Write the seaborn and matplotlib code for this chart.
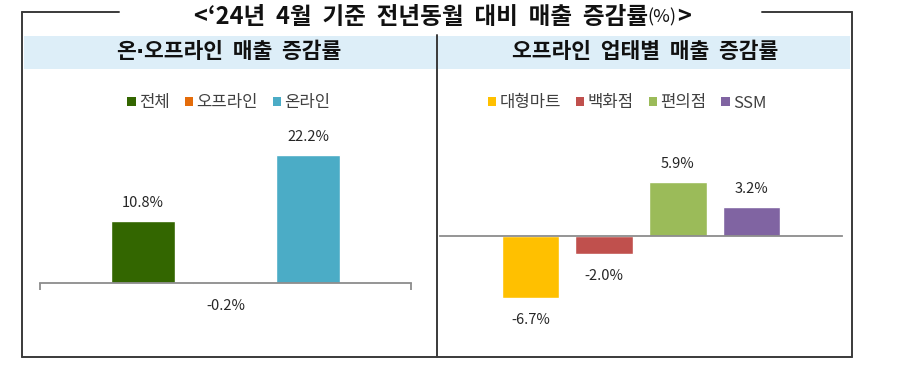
import matplotlib
matplotlib.use("Agg")
import matplotlib.pyplot as plt
from matplotlib.patches import Patch, Rectangle
from matplotlib.lines import Line2D
import seaborn as sns

# data
left_cats = ["전체", "오프라인", "온라인"]
left_vals = [10.8, -0.2, 22.2]
left_colors = ["#336600", "#E46C0A", "#4BACC6"]

right_cats = ["대형마트", "백화점", "편의점", "SSM"]
right_vals = [-6.7, -2.0, 5.9, 3.2]
right_colors = ["#FFC000", "#C0504D", "#9BBB59", "#8064A2"]

title_main = "<\u201824년  4월  기준  전년동월  대비  매출  증감률"
left_title = ["온", "·", "오프라인  매출  증감률"]
right_title = "오프라인  업태별  매출  증감률"

sns.set_theme(style="white")
plt.rcParams['font.family'] = ['Noto Sans CJK KR', 'DejaVu Sans']

W, H = 898, 369
fig = plt.figure(figsize=(W / 100, H / 100), dpi=100)
r = fig.canvas.get_renderer()


def fx(x):
	return x / W


def fy(y):
	return 1 - y / H


def px_axes(x0, y0, x1, y1):
	return fig.add_axes([fx(x0), fy(y1), fx(x1) - fx(x0), fy(y0) - fy(y1)])


def text_runs(xc, y, runs):
	# place several text pieces side by side, centred on xc (pixels)
	arts = [fig.text(0, fy(y), s, va="center", ha="left", **kw) for s, kw in runs]
	widths = [a.get_window_extent(r).width for a in arts]
	x = xc - sum(widths) / 2
	for a, w in zip(arts, widths):
		a.set_x(fx(x))
		x += w


# frame and header band
frame_c = "#3a3a3a"
for xs, ys in [((22, 119), (12, 12)), ((762, 852), (12, 12)),
			   ((22, 22), (12, 357)), ((852, 852), (12, 357)),
			   ((22, 852), (357, 357))]:
	fig.add_artist(Line2D([fx(x) for x in xs], [fy(y) for y in ys],
						  color=frame_c, lw=1.4))
fig.add_artist(Rectangle((fx(24), fy(69)), fx(850) - fx(24), fy(36) - fy(69),
						 facecolor="#DDEEF8", edgecolor="none", zorder=0))
fig.add_artist(Line2D([fx(437), fx(437)], [fy(35), fy(357)], color=frame_c, lw=1.4))

hdr = dict(fontsize=15.5, fontweight="bold", color="#111111")
text_runs(229, 52, [(left_title[0], hdr),
					(left_title[1], dict(hdr, family="DejaVu Sans")),
					(left_title[2], hdr)])
text_runs(645, 52, [(right_title, hdr)])

ttl = dict(fontsize=17, fontweight="bold", color="#111111")
text_runs(442, 17, [(title_main, ttl),
					("(%)", dict(fontsize=13, color="#111111")),
					(">", ttl)])


def bar_panel(ax, cats, vals, colors, xlim, ylim, end_ticks):
	sns.barplot(x=cats, y=vals, hue=cats, palette=colors, ax=ax,
				width=0.78, legend=False, saturation=1)
	ax.set_xlim(*xlim)
	ax.set_ylim(*ylim)
	for s in ["top", "right", "left"]:
		ax.spines[s].set_visible(False)
	ax.spines["bottom"].set_position(("data", 0))
	ax.spines["bottom"].set_color("#8c8c8c")
	ax.spines["bottom"].set_linewidth(1.3)
	ax.set_yticks([])
	if end_ticks:
		ax.set_xticks(list(xlim))
		ax.tick_params(axis="x", direction="out", length=5, width=1.3,
					   color="#8c8c8c", labelbottom=False, bottom=True)
	else:
		ax.set_xticks([])
	ax.set_facecolor("none")
	for i, v in enumerate(vals):
		off = 18 if v >= 0 else -22
		ax.annotate(f"{v:.1f}%", (i, v), xytext=(0, off), textcoords="offset pixels",
					ha="center", va="center", fontsize=10.5, color="#262626")
	handles = [Patch(facecolor=c, edgecolor="none", label=n) for n, c in zip(cats, colors)]
	return handles


axl = px_axes(40, 120, 411, 340)
hl = bar_panel(axl, left_cats, left_vals, left_colors, (-1.25, 3.25), (-9.91, 28.35), True)
axr = px_axes(440, 120, 842, 340)
hr = bar_panel(axr, right_cats, right_vals, right_colors, (-1.23, 4.23), (-11.3, 12.6), False)

leg_kw = dict(loc="center", frameon=False, handlelength=0.5, handleheight=0.5,
			  handletextpad=0.2, columnspacing=0.9, fontsize=12,
			  labelcolor="#404040", bbox_transform=fig.transFigure)
fig.legend(handles=hl, ncol=3, bbox_to_anchor=(fx(229), fy(103)), **leg_kw)
fig.legend(handles=hr, ncol=4, bbox_to_anchor=(fx(627), fy(103)), **leg_kw)

fig.savefig("out.png", dpi=100)
